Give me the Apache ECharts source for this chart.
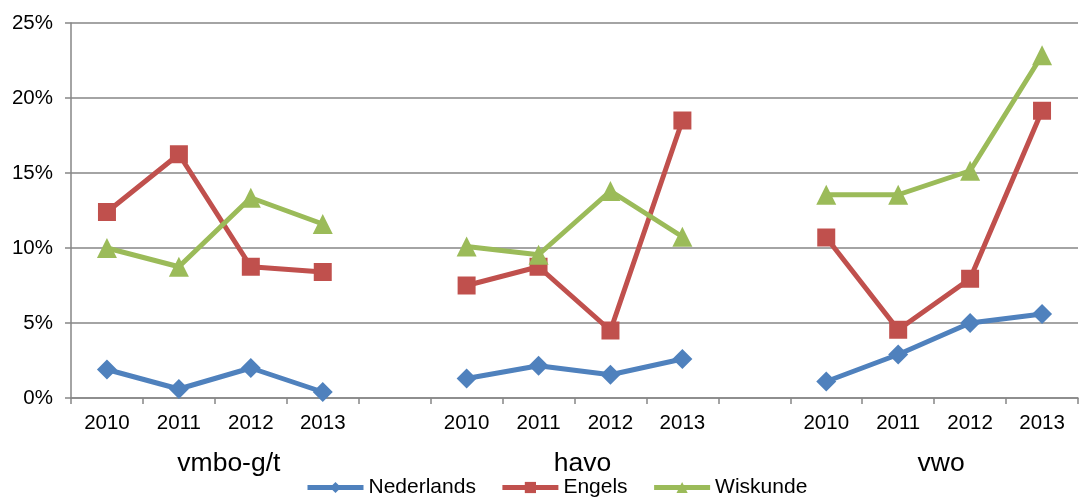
<!DOCTYPE html>
<html>
<head>
<meta charset="utf-8">
<script src="https://cdn.jsdelivr.net/npm/echarts@6/dist/echarts.min.js"></script>
<style>
html, body { margin: 0; padding: 0; background: #fff; }
#main { width: 1079px; height: 498px; }
</style>
</head>
<body>
<div id="main"></div>
<script>
// schooltypes en jaren
var groepen = ['vmbo-g/t', 'havo', 'vwo'];
var jaren = ['2010', '2011', '2012', '2013'];
var yTicks = [0, 5, 10, 15, 20, 25];

// percentages per vak, per schooltype (volgorde = jaren)
var nederlands = [
	[1.9, 0.6, 2.0, 0.4],
	[1.3, 2.15, 1.55, 2.6],
	[1.1, 2.9, 5.0, 5.6]
];
var engels = [
	[12.4, 16.25, 8.75, 8.4],
	[7.5, 8.75, 4.5, 18.5],
	[10.7, 4.55, 7.95, 19.15]
];
var wiskunde = [
	[10.0, 8.75, 13.35, 11.6],
	[10.1, 9.55, 13.8, 10.75],
	[13.55, 13.55, 15.15, 22.85]
];

// x-as: per groep de jaren, met een lege plek ertussen
var categorieen = [];
for (var g = 0; g < groepen.length; g++) {
	for (var j = 0; j < jaren.length; j++) {
		categorieen.push(groepen[g] + '|' + jaren[j]);
	}
	if (g < groepen.length - 1) categorieen.push(groepen[g] + '|');
}

function plat(reeks) {
	var uit = [];
	for (var g = 0; g < reeks.length; g++) {
		for (var j = 0; j < reeks[g].length; j++) uit.push(reeks[g][j]);
		if (g < reeks.length - 1) uit.push(null);
	}
	return uit;
}

var FONT = '"Liberation Sans", Arial, sans-serif';
var GRIJS = '#868686';

function lijn(naam, kleur, symbool, grootte, data) {
	return {
		name: naam,
		type: 'line',
		data: plat(data),
		connectNulls: false,
		symbol: symbool,
		symbolSize: grootte,
		showAllSymbol: true,
		lineStyle: { color: kleur, width: 5 },
		itemStyle: { color: kleur },
		emphasis: { disabled: true },
		animation: false
	};
}

var chart = echarts.init(document.getElementById('main'));
var option = {
	animation: false,
	grid: { left: 71, right: 1, top: 23, bottom: 100 },
	legend: {
		left: 305,
		top: 477,
		padding: 0,
		itemWidth: 56,
		itemHeight: 14,
		itemGap: 24,
		lineStyle: { width: 5 },
		textStyle: { fontFamily: FONT, fontSize: 21, color: '#000' },
		data: ['Nederlands', 'Engels', 'Wiskunde']
	},
	xAxis: {
		type: 'category',
		data: categorieen,
		boundaryGap: true,
		axisLine: { lineStyle: { color: GRIJS, width: 1.5 } },
		axisTick: { show: true, length: 6, interval: 0, lineStyle: { color: GRIJS, width: 1.5 } },
		axisLabel: {
			interval: 0,
			margin: 15,
			fontFamily: FONT,
			fontSize: 20.5,
			color: '#000',
			formatter: function (v) { return v.split('|')[1]; }
		}
	},
	yAxis: {
		type: 'value',
		min: yTicks[0],
		max: yTicks[yTicks.length - 1],
		interval: 5,
		axisLine: { show: true, lineStyle: { color: GRIJS, width: 1.5 } },
		axisTick: { show: true, length: 6, lineStyle: { color: GRIJS, width: 1.5 } },
		splitLine: { lineStyle: { color: GRIJS, width: 1.5 } },
		axisLabel: {
			margin: 18,
			fontFamily: FONT,
			fontSize: 20.5,
			color: '#000',
			formatter: '{value}%'
		}
	},
	series: [
		lijn('Nederlands', '#4F81BD', 'diamond', 20, nederlands),
		lijn('Engels', '#C0504D', 'rect', 18, engels),
		lijn('Wiskunde', '#9BBB59', 'triangle', 20, wiskunde)
	]
};
chart.setOption(option);

// groepsnamen onder de jaartallen, gecentreerd onder elke groep
var verschuiving = [14, 8, 7];
var teksten = [];
var start = 0;
for (var g = 0; g < groepen.length; g++) {
	var x1 = chart.convertToPixel({ xAxisIndex: 0 }, start);
	var x2 = chart.convertToPixel({ xAxisIndex: 0 }, start + jaren.length - 1);
	teksten.push({
		type: 'text',
		x: (x1 + x2) / 2 + verschuiving[g],
		y: 464,
		style: {
			text: groepen[g],
			fontFamily: FONT,
			fontSize: 26.5,
			fill: '#000',
			align: 'center',
			verticalAlign: 'middle'
		}
	});
	start += jaren.length + 1;
}
chart.setOption({ graphic: teksten });
</script>
</body>
</html>
